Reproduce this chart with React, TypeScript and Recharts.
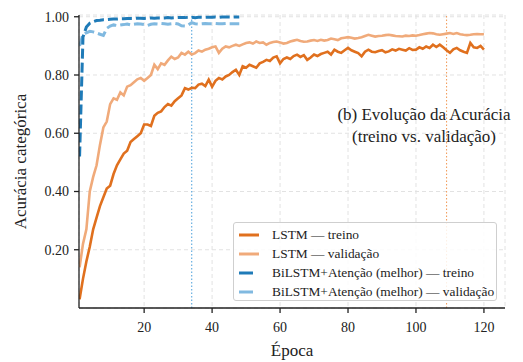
import React from "react";
import { LineChart, Line, XAxis, YAxis, CartesianGrid, ReferenceLine } from "recharts";

const epochs: number[] = Array.from({ length: 120 }, (_, i) => i + 1);

const lstmTrain: number[] = [
  0.03, 0.10, 0.16, 0.21, 0.27, 0.31, 0.35, 0.38, 0.41, 0.42,
  0.46, 0.49, 0.51, 0.53, 0.54, 0.57, 0.58, 0.59, 0.60, 0.63,
  0.63, 0.625, 0.66, 0.67, 0.675, 0.69, 0.70, 0.695, 0.71, 0.72,
  0.73, 0.755, 0.75, 0.756, 0.755, 0.767, 0.77, 0.762, 0.784, 0.76,
  0.78, 0.79, 0.785, 0.795, 0.80, 0.81, 0.818, 0.80, 0.83, 0.825,
  0.835, 0.83, 0.825, 0.84, 0.845, 0.852, 0.848, 0.86, 0.864, 0.84,
  0.855, 0.86, 0.855, 0.865, 0.87, 0.862, 0.868, 0.852, 0.86, 0.87,
  0.865, 0.872, 0.876, 0.88, 0.87, 0.887, 0.88, 0.876, 0.885, 0.893,
  0.885, 0.88, 0.875, 0.864, 0.88, 0.887, 0.88, 0.878, 0.882, 0.885,
  0.878, 0.881, 0.888, 0.884, 0.89, 0.887, 0.884, 0.892, 0.886, 0.887,
  0.895, 0.89, 0.898, 0.893, 0.904, 0.896, 0.904, 0.895, 0.885, 0.876,
  0.888, 0.893, 0.885, 0.88, 0.876, 0.91, 0.895, 0.893, 0.9, 0.887,
];

const lstmVal: number[] = [
  0.14, 0.22, 0.27, 0.40, 0.45, 0.49, 0.56, 0.62, 0.64, 0.70,
  0.72, 0.715, 0.74, 0.73, 0.76, 0.765, 0.775, 0.785, 0.79, 0.78,
  0.79, 0.80, 0.835, 0.82, 0.84, 0.835, 0.85, 0.863, 0.855, 0.86,
  0.876, 0.87, 0.88, 0.87, 0.875, 0.884, 0.88, 0.887, 0.89, 0.895,
  0.898, 0.876, 0.89, 0.898, 0.895, 0.9, 0.904, 0.9, 0.905, 0.91,
  0.912, 0.908, 0.915, 0.91, 0.912, 0.904, 0.91, 0.913, 0.915, 0.912,
  0.908, 0.91, 0.915, 0.918, 0.921, 0.917, 0.914, 0.915, 0.918, 0.92,
  0.917, 0.921, 0.918, 0.92, 0.925, 0.923, 0.92, 0.926, 0.928, 0.93,
  0.928, 0.925, 0.927, 0.93, 0.934, 0.938, 0.935, 0.932, 0.934, 0.935,
  0.937, 0.938, 0.936, 0.934, 0.933, 0.932, 0.935, 0.934, 0.936, 0.935,
  0.937, 0.94, 0.942, 0.944, 0.943, 0.94, 0.938, 0.94, 0.942, 0.944,
  0.941, 0.944, 0.94, 0.938, 0.937, 0.938, 0.94, 0.941, 0.94, 0.94,
];

const bilstmTrain: number[] = [
  0.52, 0.93, 0.965, 0.978, 0.983, 0.987, 0.988, 0.99, 0.99, 0.991,
  0.992, 0.992, 0.993, 0.993, 0.994, 0.994, 0.994, 0.995, 0.995, 0.994,
  0.995, 0.996, 0.995, 0.996, 0.996, 0.996, 0.997, 0.996, 0.997, 0.997,
  0.997, 0.997, 0.998, 0.998, 0.997, 0.998, 0.998, 0.998, 0.998, 0.998,
  0.999, 0.998, 0.999, 0.999, 0.999, 0.999, 0.999, 0.999,
];

const bilstmVal: number[] = [
  0.90, 0.94, 0.945, 0.95, 0.948, 0.944, 0.94, 0.936, 0.96, 0.968,
  0.972, 0.97, 0.972, 0.973, 0.975, 0.972, 0.974, 0.976, 0.975, 0.973,
  0.97, 0.974, 0.976, 0.975, 0.977, 0.976, 0.974, 0.976, 0.977, 0.975,
  0.969, 0.968, 0.972, 0.98, 0.976, 0.975, 0.976, 0.977, 0.976, 0.976,
  0.977, 0.976, 0.976, 0.977, 0.976, 0.976, 0.976, 0.976,
];

const xTicks: number[] = [20, 40, 60, 80, 100, 120];
const yTicks: number[] = [0.2, 0.4, 0.6, 0.8, 1.0];
const bestEpochBilstm = 34;
const bestEpochLstm = 109;

const seriesNames = {
  lstmTrain: "LSTM — treino",
  lstmVal: "LSTM — validação",
  bilstmTrain: "BiLSTM+Atenção (melhor) — treino",
  bilstmVal: "BiLSTM+Atenção (melhor) — validação",
};

const C = {
  lstmTrain: "#e0701e",
  lstmVal: "#f0aa7a",
  bilstmTrain: "#1f7bb8",
  bilstmVal: "#80b9e0",
};

const data = epochs.map((e, i) => ({
  epoch: e,
  lstmTrain: lstmTrain[i],
  lstmVal: lstmVal[i],
  bilstmTrain: i < bilstmTrain.length ? bilstmTrain[i] : undefined,
  bilstmVal: i < bilstmVal.length ? bilstmVal[i] : undefined,
}));

const FONT = '"Liberation Serif", "Times New Roman", serif';

const legendItems = [
  { key: "lstmTrain", dashed: false },
  { key: "lstmVal", dashed: false },
  { key: "bilstmTrain", dashed: true },
  { key: "bilstmVal", dashed: true },
] as const;

const XTick = (props: any) => {
  const { x, y, payload } = props;
  return (
    <text x={x} y={y + 15} textAnchor="middle" fontFamily={FONT} fontSize={14} fill="#222">
      {payload.value}
    </text>
  );
};

const YTick = (props: any) => {
  const { x, y, payload } = props;
  return (
    <text x={x - 1} y={y + 5} textAnchor="end" fontFamily={FONT} fontSize={14} fill="#222">
      {Number(payload.value).toFixed(2)}
    </text>
  );
};

export default function App() {
  return (
    <div style={{ position: "absolute", left: 0, top: 0, width: 523, height: 362, background: "#fff", fontFamily: FONT }}>
      <style>{`.recharts-wrapper svg text, .recharts-wrapper svg tspan { font-family: ${FONT} !important; }`}</style>
      <LineChart
        width={523}
        height={362}
        data={data}
        margin={{ top: 15, right: 18, left: 0, bottom: 0 }}
      >
        <CartesianGrid stroke="#e2e2e2" strokeDasharray="4 3" vertical={true} horizontal={true} />
        <XAxis
          dataKey="epoch"
          type="number"
          domain={[0.83, 126.2]}
          ticks={xTicks}
          height={54}
          axisLine={{ stroke: "#222", strokeWidth: 1.3 }}
          tickLine={{ stroke: "#222", strokeWidth: 1.3 }}
          tickSize={5}
          tick={<XTick />}
          tickMargin={4}
          allowDataOverflow
          label={{ value: "Época", position: "insideBottom", offset: 6, fill: "#222", fontSize: 17 }}
        />
        <YAxis
          type="number"
          domain={[0, 1.006]}
          ticks={yTicks}
          width={79}
          axisLine={{ stroke: "#222", strokeWidth: 1.3 }}
          tickLine={{ stroke: "#222", strokeWidth: 1.3 }}
          tickSize={5}
          tick={<YTick />}
          tickMargin={4}
          allowDataOverflow
          label={{ value: "Acurácia categórica", angle: -90, position: "insideLeft", offset: 20, style: { textAnchor: "middle" }, fill: "#222", fontSize: 17 }}
        />
        <ReferenceLine x={bestEpochBilstm} stroke="#5aa8de" strokeWidth={1.1} strokeDasharray="1.5 2" />
        <ReferenceLine x={bestEpochLstm} stroke="#f2a060" strokeWidth={1.1} strokeDasharray="1.5 2" />
        <Line dataKey="lstmVal" stroke={C.lstmVal} strokeWidth={2.6} dot={false} isAnimationActive={false} />
        <Line dataKey="lstmTrain" stroke={C.lstmTrain} strokeWidth={2.6} dot={false} isAnimationActive={false} />
        <Line dataKey="bilstmVal" stroke={C.bilstmVal} strokeWidth={3} strokeDasharray="10 4" dot={false} isAnimationActive={false} connectNulls={false} />
        <Line dataKey="bilstmTrain" stroke={C.bilstmTrain} strokeWidth={3} strokeDasharray="10 4" dot={false} isAnimationActive={false} connectNulls={false} />
      </LineChart>

      <div
        style={{
          position: "absolute",
          left: 334,
          top: 104,
          width: 180,
          textAlign: "center",
          fontSize: 17,
          lineHeight: "22px",
          color: "#222",
        }}
      >
        (b) Evolução da Acurácia
        <br />
        (treino vs. validação)
      </div>

      <div
        style={{
          position: "absolute",
          left: 233,
          top: 222,
          width: 264,
          height: 79,
          border: "1px solid #cfcfcf",
          borderRadius: 3,
          background: "rgba(255,255,255,0.85)",
          boxSizing: "border-box",
          padding: "2px 0 0 0",
        }}
      >
        {legendItems.map((it) => (
          <div key={it.key} style={{ display: "flex", alignItems: "center", height: 19, fontSize: 13.4, color: "#222" }}>
            <svg width={34} height={10} style={{ marginLeft: 4 }}>
              <line
                x1={1}
                y1={5}
                x2={it.dashed ? 15 : 21}
                y2={5}
                stroke={C[it.key]}
                strokeWidth={3}
              />
            </svg>
            <span style={{ whiteSpace: "nowrap" }}>{seriesNames[it.key]}</span>
          </div>
        ))}
      </div>
    </div>
  );
}
